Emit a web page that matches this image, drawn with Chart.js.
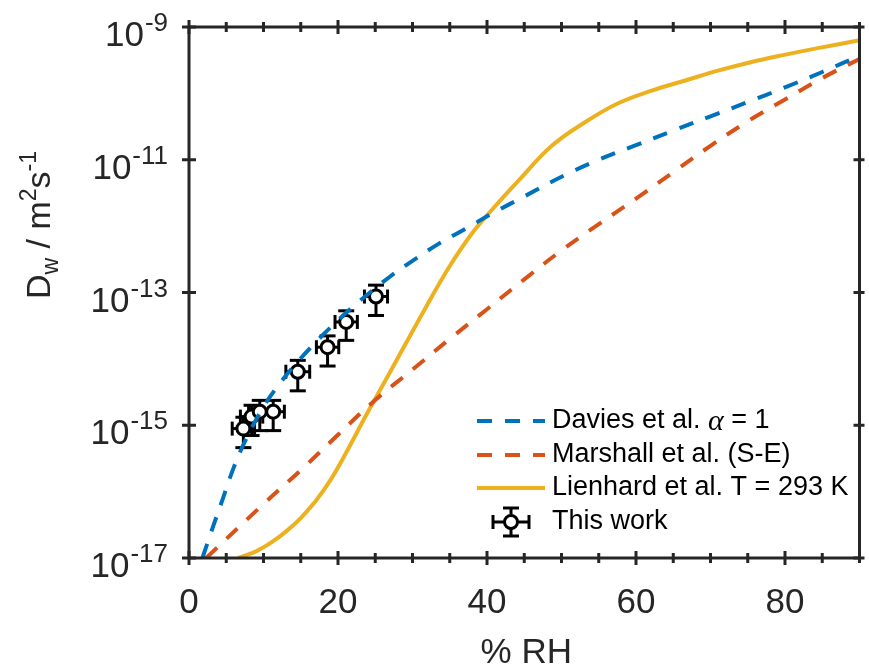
<!DOCTYPE html>
<html>
<head>
<meta charset="utf-8">
<title>Dw vs RH</title>
<script src="https://cdn.jsdelivr.net/npm/chart.js@4.4.1/dist/chart.umd.min.js"></script>
<style>
    html, body { margin: 0; padding: 0; background: #fff; }
    #wrap { width: 869px; height: 669px; position: relative; }
</style>
</head>
<body>
<div id="wrap"><canvas id="chart"></canvas></div>
<script>
// ── Model curves (% RH, Dw in m^2 s^-1) ──
const daviesRH = [1.8, 3.0, 4.5, 6.0, 7.7, 10, 12, 14, 17, 20, 23, 27, 30, 33.6, 37.1, 40.7, 45, 50.5, 55, 60, 65, 70, 75, 80, 85, 90];
const daviesDw = [1.0e-17, 2.5e-17, 7.6e-17, 2.3e-16, 6.3e-16, 1.9e-15, 4.0e-15, 7.6e-15, 1.78e-14, 3.8e-14, 7.6e-14, 1.74e-13, 3.0e-13, 5.5e-13, 9.1e-13, 1.55e-12, 2.8e-12, 5.9e-12, 1.0e-11, 1.66e-11, 2.75e-11, 4.5e-11, 7.4e-11, 1.23e-10, 2.1e-10, 3.7e-10];

const marshallRH = [2.3, 10, 15, 20, 25, 30, 35, 40, 45, 50, 55, 60, 65, 70, 75, 80, 85, 90];
const marshallDw = [1.0e-17, 6.5e-17, 2.1e-16, 7.2e-16, 2.4e-15, 6.9e-15, 2.0e-14, 5.6e-14, 1.58e-13, 4.3e-13, 1.07e-12, 2.6e-12, 6.5e-12, 1.62e-11, 3.8e-11, 8.1e-11, 1.7e-10, 3.3e-10];

const lienhardRH = [6.6, 9, 11, 13, 15, 17, 19, 21, 23.75, 26.4, 29.1, 31.8, 34.9, 38.0, 40.7, 44.2, 48.7, 53.2, 57.6, 62.1, 66.5, 71.0, 75.4, 79.9, 84.4, 90];
const lienhardDw = [1.0e-17, 1.26e-17, 1.7e-17, 2.5e-17, 4.0e-17, 7.2e-17, 1.5e-16, 3.7e-16, 1.4e-15, 4.8e-15, 1.7e-14, 6.0e-14, 2.4e-13, 7.8e-13, 1.78e-12, 4.8e-12, 1.62e-11, 3.7e-11, 7.1e-11, 1.1e-10, 1.55e-10, 2.2e-10, 2.95e-10, 3.8e-10, 4.8e-10, 6.3e-10];

// ── Measurements ──
const workRH    = [7.3, 8.4, 9.5, 11.3, 14.6, 18.6, 21.1, 25.1];
const workDw    = [8.9e-16, 1.35e-15, 1.6e-15, 1.6e-15, 6.4e-15, 1.5e-14, 3.6e-14, 8.7e-14];
const workErrRH = [1.5, 1.5, 1.5, 1.5, 1.6, 1.5, 1.5, 1.55];
const workErrDw = [4.3e-16, 6.5e-16, 7.7e-16, 7.7e-16, 3.1e-15, 7.2e-15, 1.7e-14, 4.2e-14];

// ── Axes ──
const xMin = 0, xMax = 90;
const xMajor = [0, 20, 40, 60, 80];
const xMinor = [5, 10, 15, 25, 30, 35, 45, 50, 55, 65, 70, 75, 85, 90];
const yMin = 1e-17, yMax = 1e-9;
const yTicks = [1e-17, 1e-15, 1e-13, 1e-11, 1e-9];
const yTickExp = ['-17', '-15', '-13', '-11', '-9'];

const BLUE = '#0072BD', ORANGE = '#D95319', YELLOW = '#EDB120', INK = '#262626';
const FONT = '"Liberation Sans", Arial, sans-serif';
const DASH = [15, 13];

const pts = (xs, ys) => xs.map((x, i) => ({ x, y: ys[i] }));

function seg(ctx, x1, y1, x2, y2) {
    ctx.beginPath(); ctx.moveTo(x1, y1); ctx.lineTo(x2, y2); ctx.stroke();
}

// error bar glyph: horizontal + vertical bars with caps
function errGlyph(ctx, cx, cy, xl, xr, yt, yb) {
    seg(ctx, xl, cy, xr, cy);
    seg(ctx, xl, cy - 7, xl, cy + 7);
    seg(ctx, xr, cy - 7, xr, cy + 7);
    seg(ctx, cx, yt, cx, yb);
    seg(ctx, cx - 8, yt, cx + 8, yt);
    seg(ctx, cx - 8, yb, cx + 8, yb);
}

const errorBars = {
    id: 'errorBars',
    beforeDatasetDraw(chart, args) {
        if (args.index !== 3) return;
        const { ctx, scales: { x, y } } = chart;
        ctx.save();
        ctx.strokeStyle = '#000'; ctx.lineWidth = 3; ctx.lineCap = 'butt';
        workRH.forEach((rh, i) => {
            const d = workDw[i];
            errGlyph(ctx, x.getPixelForValue(rh), y.getPixelForValue(d),
                x.getPixelForValue(rh - workErrRH[i]), x.getPixelForValue(rh + workErrRH[i]),
                y.getPixelForValue(d + workErrDw[i]), y.getPixelForValue(d - workErrDw[i]));
        });
        ctx.restore();
    }
};

// box, ticks crossing the box, tick labels, axis titles
const frame = {
    id: 'frame',
    afterDraw(chart) {
        const { ctx, chartArea: a, scales: { x, y } } = chart;
        ctx.save();
        ctx.strokeStyle = INK; ctx.lineWidth = 3; ctx.lineCap = 'butt';
        ctx.strokeRect(a.left, a.top, a.right - a.left, a.bottom - a.top);

        const xt = (v, len) => {
            const px = x.getPixelForValue(v);
            seg(ctx, px, a.bottom - len, px, a.bottom + len);
            seg(ctx, px, a.top - len, px, a.top + len);
        };
        xMajor.forEach(v => xt(v, 7));
        xMinor.forEach(v => xt(v, 5));
        yTicks.forEach(v => {
            const py = y.getPixelForValue(v);
            seg(ctx, a.left - 7, py, a.left + 7, py);
            seg(ctx, a.right - 6, py, a.right + 5, py);
        });

        ctx.fillStyle = INK;
        ctx.textBaseline = 'alphabetic';
        ctx.font = `35px ${FONT}`;
        ctx.textAlign = 'center';
        xMajor.forEach(v => ctx.fillText(String(v), x.getPixelForValue(v), 613));
        ctx.fillText('% RH', (a.left + a.right) / 2 + 2, 663);

        const right = 168;
        yTicks.forEach((v, i) => {
            const py = y.getPixelForValue(v);
            ctx.font = `26px ${FONT}`;
            ctx.textAlign = 'right';
            const w = ctx.measureText(yTickExp[i]).width;
            ctx.fillText(yTickExp[i], right, py + 4);
            ctx.font = `35px ${FONT}`;
            ctx.fillText('10', right - w - 1, py + 19);
        });

        // y title: D_w / m^2 s^-1, reading upward
        ctx.save();
        ctx.translate(50, 299);
        ctx.rotate(-Math.PI / 2);
        ctx.textAlign = 'left';
        let u = 0;
        const part = (txt, size, shift) => {
            ctx.font = `${size}px ${FONT}`;
            ctx.fillText(txt, u, shift);
            u += ctx.measureText(txt).width;
        };
        part('D', 34, 0);
        part('w', 23, 8);
        part(' / m', 34, 0);
        part('2', 23, -14);
        part('s', 34, 0);
        part('-1', 23, -14);
        ctx.restore();
        ctx.restore();
    }
};

// legend in the lower right of the plot
const legendBox = {
    id: 'legendBox',
    afterDraw(chart) {
        const { ctx } = chart;
        const rows = [421, 455, 488, 522];
        const x0 = 477, x1 = 545, tx = 552;
        ctx.save();
        ctx.lineWidth = 4; ctx.lineCap = 'butt';
        [[BLUE, DASH], [ORANGE, DASH], [YELLOW, []]].forEach(([c, d], i) => {
            ctx.strokeStyle = c; ctx.setLineDash(d);
            seg(ctx, x0, rows[i], x1, rows[i]);
        });
        ctx.setLineDash([]);
        ctx.strokeStyle = '#000'; ctx.lineWidth = 3;
        const cx = 511, cy = rows[3];
        errGlyph(ctx, cx, cy, cx - 18, cx + 18, cy - 14, cy + 14);
        ctx.beginPath(); ctx.arc(cx, cy, 6.5, 0, Math.PI * 2);
        ctx.fillStyle = '#fff'; ctx.fill(); ctx.stroke();

        ctx.fillStyle = '#000';
        ctx.textBaseline = 'middle';
        ctx.textAlign = 'left';
        ctx.font = `27px ${FONT}`;
        let u = tx;
        ctx.fillText('Davies et al. ', u, rows[0]);
        u += ctx.measureText('Davies et al. ').width;
        ctx.font = `italic 30px "Liberation Serif", "DejaVu Serif", serif`;
        ctx.fillText('\u03B1', u, rows[0] + 1);
        u += ctx.measureText('\u03B1').width;
        ctx.font = `27px ${FONT}`;
        ctx.fillText(' = 1', u, rows[0]);
        ctx.fillText('Marshall et al. (S-E)', tx, rows[1]);
        ctx.fillText('Lienhard et al. T = 293 K', tx, rows[2]);
        ctx.fillText('This work', tx, rows[3]);
        ctx.restore();
    }
};

const line = (label, xs, ys, color, dash) => ({
    label, data: pts(xs, ys), showLine: true,
    borderColor: color, borderWidth: 4, borderDash: dash, borderCapStyle: 'butt',
    pointRadius: 0, tension: 0.4, fill: false
});

new Chart(document.getElementById('chart'), {
    type: 'scatter',
    data: {
        datasets: [
            line('Davies et al. α = 1', daviesRH, daviesDw, BLUE, DASH),
            line('Marshall et al. (S-E)', marshallRH, marshallDw, ORANGE, DASH),
            line('Lienhard et al. T = 293 K', lienhardRH, lienhardDw, YELLOW, []),
            {
                label: 'This work', data: pts(workRH, workDw), showLine: false,
                pointRadius: 6.5, pointHoverRadius: 6.5, pointBorderWidth: 3,
                pointBorderColor: '#000', pointBackgroundColor: '#fff', clip: false
            }
        ]
    },
    options: {
        responsive: true, maintainAspectRatio: false, animation: false,
        devicePixelRatio: 1,
        layout: { padding: { left: 0, top: 27, right: 7, bottom: 0 } },
        scales: {
            x: {
                type: 'linear', min: xMin, max: xMax,
                ticks: { display: false }, grid: { display: false }, border: { display: false },
                afterFit: s => { s.height = 111; }
            },
            y: {
                type: 'logarithmic', min: yMin, max: yMax,
                ticks: { display: false }, grid: { display: false }, border: { display: false },
                afterFit: s => { s.width = 189; }
            }
        },
        plugins: { legend: { display: false }, tooltip: { enabled: false } }
    },
    plugins: [errorBars, frame, legendBox]
});
</script>
</body>
</html>
